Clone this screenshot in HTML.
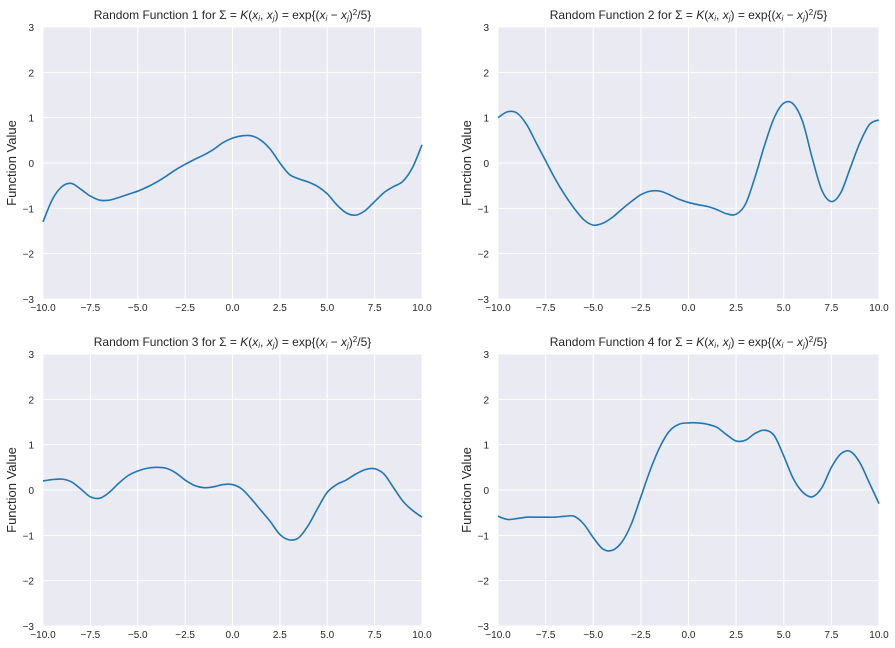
<!DOCTYPE html>
<html><head><meta charset="utf-8"><style>
body{margin:0;background:#fff;}
svg{display:block;font-family:"Liberation Sans","DejaVu Sans",sans-serif;}
</style></head><body>
<svg id="chart" width="895" height="648"></svg>
<script>
const xTicks=[-10,-7.5,-5,-2.5,0,2.5,5,7.5,10];
const xTickLabels=["−10.0","−7.5","−5.0","−2.5","0.0","2.5","5.0","7.5","10.0"];
const yTicks=[-3,-2,-1,0,1,2,3];
const yTickLabels=["−3","−2","−1","0","1","2","3"];
const xs=[-10,-9.5,-9,-8.5,-8,-7.5,-7,-6.5,-6,-5.5,-5,-4.5,-4,-3.5,-3,-2.5,-2,-1.5,-1,-0.5,0,0.5,1,1.5,2,2.5,3,3.5,4,4.5,5,5.5,6,6.5,7,7.5,8,8.5,9,9.5,10];
const f1=[-1.3,-0.8,-0.52,-0.45,-0.58,-0.73,-0.82,-0.82,-0.76,-0.69,-0.62,-0.53,-0.42,-0.29,-0.15,-0.03,0.08,0.18,0.3,0.45,0.55,0.6,0.6,0.5,0.3,0,-0.25,-0.35,-0.42,-0.52,-0.68,-0.92,-1.1,-1.15,-1.05,-0.85,-0.65,-0.52,-0.4,-0.1,0.4];
const f2=[1.0,1.13,1.1,0.85,0.45,0.05,-0.35,-0.7,-1.0,-1.25,-1.37,-1.33,-1.2,-1.02,-0.85,-0.7,-0.62,-0.62,-0.7,-0.8,-0.87,-0.92,-0.96,-1.03,-1.12,-1.13,-0.9,-0.3,0.4,1.0,1.32,1.3,0.9,0.1,-0.6,-0.85,-0.65,-0.1,0.45,0.85,0.95];
const f3=[0.2,0.23,0.24,0.18,0.02,-0.15,-0.18,-0.05,0.15,0.32,0.42,0.48,0.5,0.48,0.38,0.22,0.1,0.05,0.07,0.12,0.12,0.02,-0.2,-0.45,-0.7,-0.98,-1.1,-1.05,-0.78,-0.4,-0.05,0.12,0.22,0.35,0.45,0.47,0.35,0.05,-0.25,-0.45,-0.6];
const f4=[-0.58,-0.65,-0.63,-0.6,-0.6,-0.6,-0.6,-0.58,-0.58,-0.75,-1.05,-1.3,-1.33,-1.15,-0.75,-0.15,0.45,0.95,1.3,1.45,1.48,1.48,1.45,1.38,1.22,1.08,1.1,1.25,1.32,1.2,0.75,0.25,-0.05,-0.15,0.05,0.5,0.8,0.85,0.6,0.15,-0.3];
const series=[f1,f2,f3,f4];
const panels=[{x0:43,x1:422,y0:27,y1:299},{x0:498,x1:879,y0:27,y1:299},{x0:43,x1:422,y0:354,y1:626},{x0:498,x1:879,y0:354,y1:626}];
const NS="http://www.w3.org/2000/svg";
const svg=document.getElementById('chart');
function mk(t,a,p){const e=document.createElementNS(NS,t);for(const k in a)e.setAttribute(k,a[k]);(p||svg).appendChild(e);return e;}
panels.forEach((p,i)=>{
  const sx=v=>p.x0+(v+10)/20*(p.x1-p.x0);
  const sy=v=>p.y1-(v+3)/6*(p.y1-p.y0);
  const g=mk('g',{});
  
  
  const bg=mk('rect',{x:p.x0,y:p.y0,width:p.x1-p.x0,height:p.y1-p.y0,fill:'#eaeaf2'},g);
  
  
  xTicks.forEach((t,j)=>{
    const l=mk('line',{x1:sx(t),x2:sx(t),y1:p.y0,y2:p.y1,stroke:'#fff','stroke-width':1},g);
    
    
    const tx=mk('text',{x:sx(t),y:p.y1+12,'font-size':10,fill:'#262626','text-anchor':'middle'},g);
    
    
    tx.textContent=xTickLabels[j];
  });
  yTicks.forEach((t,j)=>{
    const l=mk('line',{x1:p.x0,x2:p.x1,y1:sy(t),y2:sy(t),stroke:'#fff','stroke-width':1},g);
    
    
    const tx=mk('text',{x:p.x0-9,y:sy(t)+4,'font-size':10,fill:'#262626','text-anchor':'end'},g);
    
    
    tx.textContent=yTickLabels[j];
  });
  const yl=mk('text',{x:0,y:0,'font-size':13,fill:'#262626','text-anchor':'middle',transform:`translate(${p.x0-27},${(p.y0+p.y1)/2}) rotate(-90)`},g);
  
  
  yl.textContent='Function Value';
  const ti=mk('text',{x:(p.x0+p.x1)/2,y:p.y0-8,'font-size':12,fill:'#262626','text-anchor':'middle'},g);
  
  
  ti.innerHTML=`Random Function ${i+1} for Σ = <tspan font-style="italic">K</tspan>(<tspan font-style="italic">x</tspan><tspan font-size="8" dy="2" font-style="italic">i</tspan><tspan dy="-2">, </tspan><tspan font-style="italic">x</tspan><tspan font-size="8" dy="2" font-style="italic">j</tspan><tspan dy="-2">) = exp{(</tspan><tspan font-style="italic">x</tspan><tspan font-size="8" dy="2" font-style="italic">i</tspan><tspan dy="-2"> − </tspan><tspan font-style="italic">x</tspan><tspan font-size="8" dy="2" font-style="italic">j</tspan><tspan dy="-2">)</tspan><tspan font-size="8" dy="-4">2</tspan><tspan dy="4">/5}</tspan>`;
  const d=series[i];
  const pts=xs.map((x,k)=>[sx(x),sy(d[k])]);
  let path='M'+pts[0][0]+','+pts[0][1];
  for(let k=0;k<pts.length-1;k++){
    const p0=pts[Math.max(k-1,0)],p1=pts[k],p2=pts[k+1],p3=pts[Math.min(k+2,pts.length-1)];
    const c1=[p1[0]+(p2[0]-p0[0])/6,p1[1]+(p2[1]-p0[1])/6];
    const c2=[p2[0]-(p3[0]-p1[0])/6,p2[1]-(p3[1]-p1[1])/6];
    path+=`C${c1[0]},${c1[1]} ${c2[0]},${c2[1]} ${p2[0]},${p2[1]}`;
  }
  const ln=mk('path',{d:path,fill:'none',stroke:'#1f77b4','stroke-width':1.6},g);
  
  
});
</script>
</body></html>
